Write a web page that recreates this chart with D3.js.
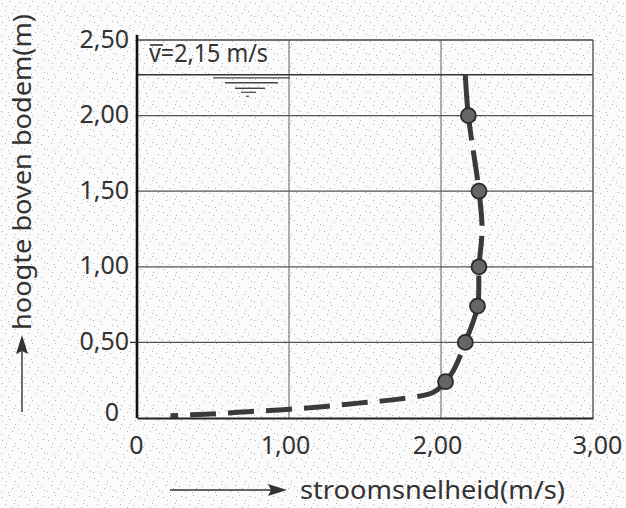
<!DOCTYPE html>
<html><head><meta charset="utf-8">
<script src="https://cdn.jsdelivr.net/npm/d3@7"></script>
<style>body{margin:0;background:#fff;} svg{display:block}</style>
</head><body>
<svg id="c" width="626" height="508"></svg>
<script>
// ---- data ----
const xTicks = [0, 1, 2, 3];
const xTickLabels = ["0", "1,00", "2,00", "3,00"];
const yTicks = [0, 0.5, 1, 1.5, 2, 2.5];
const yTickLabels = ["0", "0,50", "1,00", "1,50", "2,00", "2,50"];
const profileVelocity = [0.22, 0.45, 0.70, 0.96, 1.22, 1.47, 1.72, 1.95, 2.03, 2.09, 2.16, 2.24, 2.25, 2.27, 2.25, 2.18, 2.16];
const profileHeight   = [0.015, 0.025, 0.04, 0.055, 0.075, 0.10, 0.125, 0.17, 0.24, 0.33, 0.50, 0.74, 1.00, 1.25, 1.50, 2.00, 2.27];
const measuredVelocity = [2.03, 2.16, 2.24, 2.25, 2.25, 2.18];
const measuredHeight   = [0.24, 0.50, 0.74, 1.00, 1.50, 2.00];
const waterLevel = 2.27;
const meanSymbol = "v";
const meanText = "=2,15 m/s";
const xTitle = "stroomsnelheid(m/s)";
const yTitle = "hoogte boven bodem(m)";

// ---- layout ----
const svg = d3.select("#c");
const L = 137, R = 593, T = 40, B = 418;
const x = d3.scaleLinear().domain([0, 3]).range([L, R]);
const y = d3.scaleLinear().domain([0, 2.5]).range([B, T]);
const ink = "#333";
const font = "'Noto Sans', sans-serif";

// stippled paper background (deterministic pattern)
const defs = svg.append("defs");
const pat = defs.append("pattern").attr("id", "stip").attr("patternUnits", "userSpaceOnUse")
  .attr("width", 23).attr("height", 19);
pat.append("rect").attr("width", 23).attr("height", 19).attr("fill", "#fbfbfb");
[[2,3],[9,1],[15,6],[20,2],[5,10],[12,13],[18,11],[1,16],[8,17],[21,15],[14,9],[6,6]].forEach(d => {
  pat.append("rect").attr("x", d[0]).attr("y", d[1]).attr("width", 1).attr("height", 1).attr("fill", "#b0b0b0");
});
svg.append("rect").attr("width", 626).attr("height", 508).attr("fill", "url(#stip)");

// grid
svg.append("g").selectAll("line").data(xTicks.filter(d => d > 0 && d < 3)).join("line")
  .attr("x1", d => x(d)).attr("x2", d => x(d)).attr("y1", T).attr("y2", B)
  .attr("stroke", "#7a7a7a").attr("stroke-width", 1.2);
svg.append("g").selectAll("line").data(yTicks.filter(d => d > 0 && d < 2.5)).join("line")
  .attr("x1", L).attr("x2", R).attr("y1", d => y(d)).attr("y2", d => y(d))
  .attr("stroke", "#555").attr("stroke-width", 1.3);
// water level
svg.append("line").attr("x1", L).attr("x2", R).attr("y1", y(waterLevel)).attr("y2", y(waterLevel))
  .attr("stroke", "#333").attr("stroke-width", 1.6);
// water level symbol
const wy = y(waterLevel);
[[213, 290, 3, 1.2], [225, 278, 8, 1.4], [235, 265, 13.5, 1.4], [241, 256, 17.5, 1.2], [246, 249, 21.5, 1.2]].forEach(s => {
  svg.append("line").attr("x1", s[0]).attr("x2", s[1]).attr("y1", wy + s[2]).attr("y2", wy + s[2])
    .attr("stroke", "#444").attr("stroke-width", s[3]);
});

// frame
svg.append("line").attr("x1", L).attr("x2", R).attr("y1", T).attr("y2", T).attr("stroke", "#444").attr("stroke-width", 1.5);
svg.append("line").attr("x1", R).attr("x2", R).attr("y1", T).attr("y2", B).attr("stroke", "#555").attr("stroke-width", 1.4);

// axes
const xAxis = d3.axisBottom(x).tickValues(xTicks).tickFormat((d, i) => xTickLabels[i]).tickSize(0).tickPadding(18);
const gx = svg.append("g").attr("transform", `translate(0,${B})`).call(xAxis);
gx.select(".domain").attr("stroke", "#222").attr("stroke-width", 2.2);
gx.selectAll("text").attr("font-family", font).attr("font-size", 25).attr("fill", ink)
  .attr("dx", (d, i) => i === 0 ? -1 : (i === 3 ? 4 : -4));

const yAxis = d3.axisLeft(y).tickValues(yTicks).tickFormat((d, i) => yTickLabels[i]).tickSize(0).tickPadding(8);
const gy = svg.append("g").attr("transform", `translate(${L},0)`).call(yAxis);
gy.select(".domain").attr("stroke", "#111").attr("stroke-width", 2.6).attr("d", `M0,${B}V${T - 5}`);
gy.selectAll("text").attr("font-family", font).attr("font-size", 25).attr("fill", ink)
  .attr("dx", (d, i) => i === 0 ? -10 : 0).attr("dy", (d, i) => i === 0 ? "0.1em" : "0.28em");
// small tick at 0.50
svg.append("line").attr("x1", L - 7).attr("x2", L).attr("y1", y(0.5)).attr("y2", y(0.5)).attr("stroke", "#333").attr("stroke-width", 1.3);

// velocity profile
const prof = profileVelocity.map((v, i) => [v, profileHeight[i]]);
const line = d3.line().x(d => x(d[0])).y(d => y(d[1])).curve(d3.curveCatmullRom.alpha(0.5));
const path = svg.append("path").attr("d", line(prof.slice().reverse())).attr("fill", "none")
  .attr("stroke", "#3a3a3a").attr("stroke-width", 5).attr("stroke-linecap", "butt");
const total = path.node().getTotalLength();
const dashes = [66, 10, 30, 10, 36, 10, 28, 12, 26, 12, 30, 14];
let acc = d3.sum(dashes);
while (acc < total + 60) { dashes.push(26, 12); acc += 38; }
path.attr("stroke-dasharray", dashes.join(","));

// measured points
svg.append("g").selectAll("circle").data(measuredVelocity.map((v, i) => [v, measuredHeight[i]])).join("circle")
  .attr("cx", d => x(d[0])).attr("cy", d => y(d[1])).attr("r", 7.5)
  .attr("fill", "#666").attr("stroke", "#2a2a2a").attr("stroke-width", 1.8);

// mean velocity label
const mv = svg.append("text").attr("x", 149).attr("y", 62).attr("font-family", font).attr("font-size", 26).attr("fill", ink);
mv.append("tspan").text(meanSymbol);
mv.append("tspan").text(meanText);
mv.attr("textLength", 119).attr("lengthAdjust", "spacingAndGlyphs");
svg.append("line").attr("x1", 150).attr("x2", 163).attr("y1", 45).attr("y2", 45).attr("stroke", ink).attr("stroke-width", 1.6);

// axis titles with arrows
svg.append("line").attr("x1", 170).attr("x2", 272).attr("y1", 490).attr("y2", 490).attr("stroke", "#333").attr("stroke-width", 1.4);
svg.append("path").attr("d", "M268,484 L287,490 L268,496 L271,490 Z").attr("fill", "#333");
svg.append("text").attr("x", 300).attr("y", 499).attr("font-family", font).attr("font-size", 26).attr("fill", ink)
  .attr("textLength", 265).attr("lengthAdjust", "spacingAndGlyphs").text(xTitle);

svg.append("line").attr("x1", 22).attr("x2", 22).attr("y1", 412).attr("y2", 350).attr("stroke", "#333").attr("stroke-width", 1.4);
svg.append("path").attr("d", "M16,354 L22,335 L28,354 L22,351 Z").attr("fill", "#333");
svg.append("text").attr("transform", "translate(31,330) rotate(-90)").attr("x", 0).attr("y", 0)
  .attr("font-family", font).attr("font-size", 26).attr("fill", ink)
  .attr("textLength", 316).attr("lengthAdjust", "spacingAndGlyphs").text(yTitle);
</script>
</body></html>
